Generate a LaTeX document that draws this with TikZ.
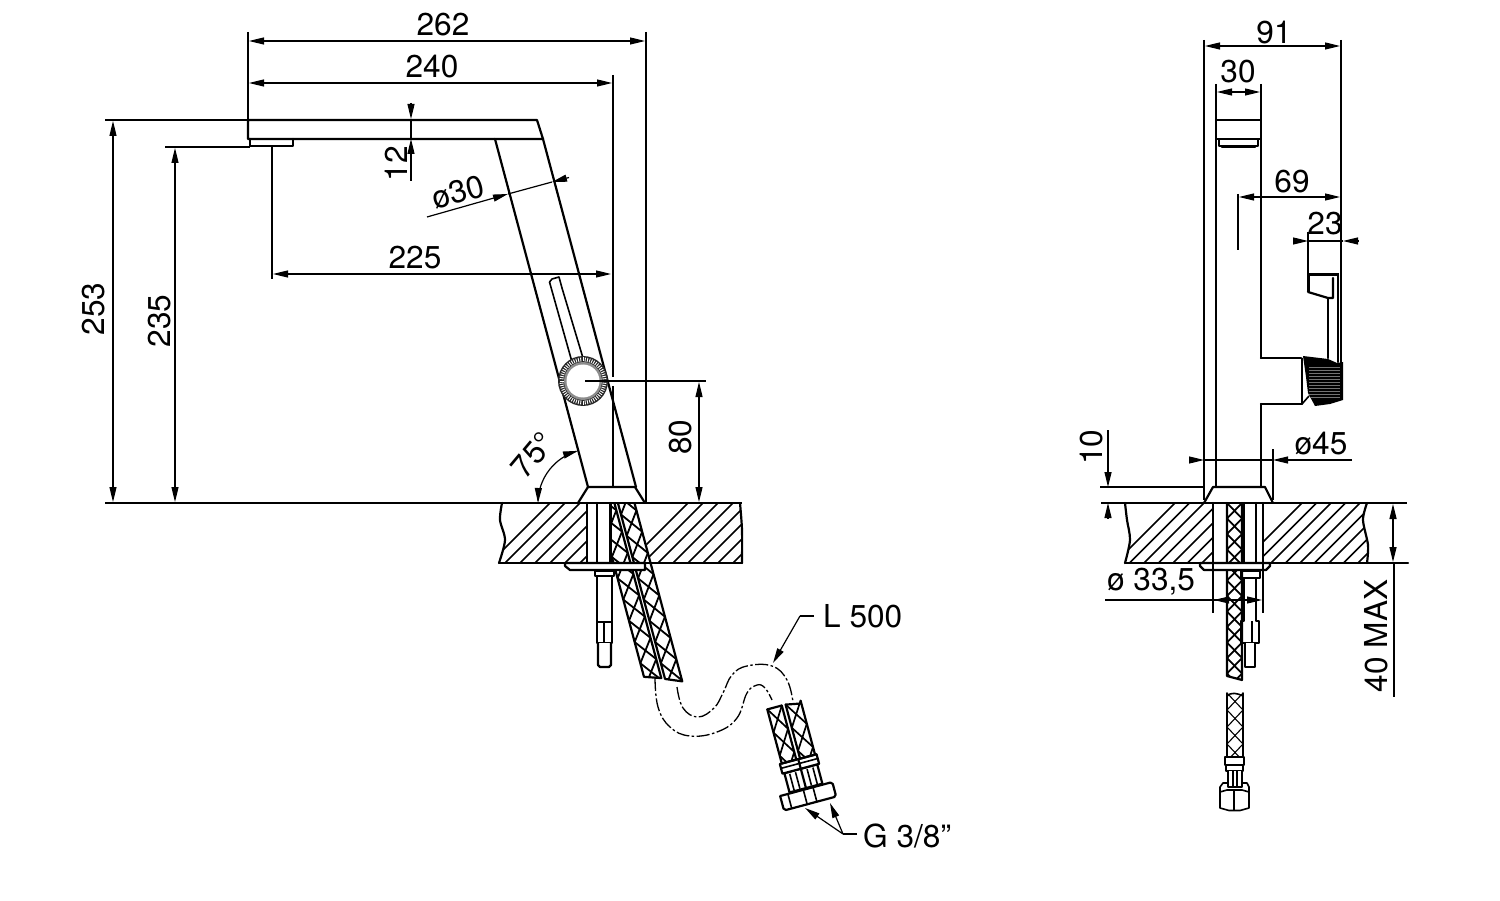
\documentclass[tikz,border=0pt]{standalone}
\usepackage{fontspec}
\setmainfont{TeX Gyre Heros}
\usetikzlibrary{arrows.meta}
\tikzset{
  main/.style={line width=2.2pt,line join=round,line cap=round},
  mid/.style={line width=1.6pt,line join=round},
  extl/.style={line width=1.2pt},
  hatchl/.style={line width=1.5pt},
  dimboth/.style={line width=1.2pt,{Triangle[length=15pt,width=7pt]}-{Triangle[length=15pt,width=7pt]}},
  dimend/.style={line width=1.2pt,-{Triangle[length=15pt,width=7pt]}},
  hosedash/.style={line width=1.3pt,dash pattern=on 13pt off 2.5pt on 2.5pt off 2.5pt},
  lab/.style={inner sep=0pt,font=\fontsize{31.6}{35}\selectfont},
}
\def\bw{1.8pt}
\def\be{2.2pt}
\newcommand\braid[7]{%
  \begin{scope}[shift={(#1,#2)},rotate=#3]
    \begin{scope}
      \clip (0,0)--(#4,0)--(#4,#6)--(0,#5)--cycle;
      \pgfmathtruncatemacro\bn{max(#5,#6)/#7+1}
      \foreach \k in {-1,...,\bn}{
        \pgfmathsetmacro\bta{\k*#7}
        \pgfmathsetmacro\btb{(\k+1)*#7}
        \draw[line width=\bw] (0,\bta)--(#4,\btb);
        \draw[line width=\bw] (#4,\bta)--(0,\btb);
      }
    \end{scope}
    \draw[main,line width=\be] (0,0)--(0,#5)--(#4,#6)--(#4,0);
  \end{scope}}
\begin{document}
\begin{tikzpicture}[x=1pt,y=-1pt]
\useasboundingbox[fill=white] (0,0) rectangle (1500,901);

% ---------- LEFT VIEW: counter ----------
\begin{scope}
  \clip plot[smooth] coordinates {(502,503)(500,520)(505,540)(499,563)} -- (587,563) -- (587,503) -- cycle;
  \foreach \s in {-10,5,...,150} \draw[hatchl] (500+\s,563)--(570+\s,493);
\end{scope}
\begin{scope}
  \clip plot[smooth] coordinates {(740,503)(742,530)(742,563)} -- (651,563) -- (636,503) -- cycle;
  \foreach \s in {-15,0,...,105} \draw[hatchl] (643+\s,563)--(713+\s,493);
\end{scope}
\draw[main] plot[smooth] coordinates {(502,503)(500,520)(505,540)(499,563)};
\draw[main] plot[smooth] coordinates {(740,503)(742,530)(742,563)};
\draw[mid] (105,503)--(742,503);
\draw[main] (499,563)--(742,563);
\draw[main] (587,503)--(587,563);
\draw[main] (597,503)--(597,563);
\draw[main] (610,503)--(610,563);

% hoses, left view
\begin{scope}
  \clip (611,503)--(800,503)--(800,720)--(580,720)--(580,564)--(611,564)--cycle;
  \braid{594.8}{493.3}{15}{16.4}{190}{195.7}{22}
  \braid{615.3}{493.3}{15}{16}{192.2}{199}{22}
\end{scope}
\draw[main] (611,503)--(611,563);

% rod
\draw[main,fill=white] (597,576)--(597,643)--(612,643)--(612,576);
\draw[mid] (597,622)--(612,622);
\draw[mid] (604,622)--(604,643);
\draw[main,fill=white] (598,643)--(598,665)--(600,667)--(609,667)--(611,665)--(611,643);
\draw[mid,fill=white] (595,571)--(614,571)--(614,576)--(595,576)--cycle;
% plate
\draw[main,fill=white] (565,563)--(565,566)--(570,570)--(645,570)--(645,563)--cycle;

% ---------- LEFT VIEW: spout and body ----------
\draw[main] (248,120)--(537,120)--(543,139)--(248,139)--cycle;
\draw[main] (250,139)--(250,146)--(293,146)--(293,139);
\draw[main] (495,139)--(588,487);
\draw[main] (543,139)--(636,487);
\draw[main] (578,503)--(588,487)--(635,487)--(645,503);
% slot
\draw[mid] (549.5,282)--(552,279)--(559,277)--(562,288);
\draw[mid] (549.5,282)--(572,362);
\draw[mid] (562,288)--(583,358);
% ring
\fill[black!85] (583,381) circle[radius=25];
\foreach \a in {0,6,...,354}
  \draw[white,line width=.9pt] ({583+19.5*cos(\a)},{381+19.5*sin(\a)})--({583+23.5*cos(\a)},{381+23.5*sin(\a)});
\fill[black!45] (583,381) circle[radius=19];
\fill[white] (583,381) circle[radius=16.5];

% ---------- LEFT VIEW: dimensions ----------
\draw[extl] (248,32)--(248,120);
\draw[extl] (646,32)--(646,503);
\draw[extl] (613,75)--(613,377);
\draw[extl] (613,386)--(613,487);
\draw[extl] (272,147)--(272,279);
\draw[extl] (105,120)--(248,120);
\draw[extl] (165,147)--(250,147);
\draw[extl] (585,381)--(706,381);
\draw[dimboth] (249,41)--(645,41);
\draw[dimboth] (249,83)--(612,83);
\draw[dimboth] (273,274)--(611,274);
\draw[dimboth] (113,121)--(113,502);
\draw[dimboth] (175,148)--(175,502);
\draw[dimboth] (699,382)--(699,502);
\draw[dimend] (411,103)--(411,119);
\draw[dimend] (411,181)--(411,139);
\draw[extl] (411,119)--(411,139);
\draw[dimend] (427,217)--(508,194);
\draw[extl] (508,194)--(552,182);
\draw[dimend] (569,177.5)--(552,182);
\draw[dimboth] plot[domain=180:105,samples=30] ({592+54*cos(\x)},{503-54*sin(\x)});
\node[lab] (t262) at (443,25) {262};
\node[lab] (t240) at (432,67) {240};
\node[lab] (t225) at (415,258) {225};
\node[lab,rotate=90] (t253) at (94,309) {253};
\node[lab,rotate=90] (t235) at (160,321) {235};
\node[lab,rotate=90] (t80) at (681,437) {80};
\node[lab,rotate=90] (t12) at (396,164) {12};
\node[lab,rotate=15] (td30) at (458,192) {ø30};
\node[lab,rotate=50] (t75) at (533,455) {75°};

% ---------- flexible hose ----------
\draw[hosedash] plot[smooth,tension=.7] coordinates {(677,687)(683,708)(698,717)(714,708)(723,693)(732,675)(747,666)(772,666)(787,680)(793,702)};
\draw[hosedash] plot[smooth,tension=.7] coordinates {(655,678)(658,707)(670,727)(690,736)(717,732)(737,718)(747,693)(757,685)(765,688)(772,700)};
\coordinate (l1) at (800,616);
\coordinate (l2) at (814,616);
\coordinate (lt) at (773,663);
\draw[extl] (l2)--(l1);
\draw[dimend] (l1)--(lt);
\node[lab,anchor=west] (tL) at (823,616) {L 500};

% fitting (local frame along the hose)
\begin{scope}[shift={(783.7,705)},rotate=15]
  \draw[main,fill=white] (-17,66)--(17,66)--(17,86)--(-17,86)--cycle;
  \foreach \u in {-12,-6,6,12} \draw[mid] (\u,68)--(\u,85);
  \draw[main,fill=white] (-19,56)--(19,56)--(19,66)--(-19,66)--cycle;
  \draw[mid] (-19,60.5)--(19,60.5);
  \draw[main] (0,56)--(0,86);
  \draw[main,fill=white] (-27,87)--(25,87)--(27,89)--(27,100)--(25,102)--(-25,102)--(-27,100)--(-27,89)--cycle;
  \draw[mid] (-19,87)--(-19,102);
  \draw[mid] (-3,87)--(-3,102);
  \draw[mid] (7,87)--(7,102);
\end{scope}
\def\bw{1.7pt}
\braid{767.3}{709.4}{15}{15}{56}{56}{24}
\braid{785.6}{704.6}{15}{15.5}{56}{56}{24}
\draw[main] (767.3,709.4)--(781.8,705.5);
\draw[main] (785.6,704.6)--(801,703.5);
\coordinate (g1) at (857,834);
\coordinate (g2) at (843,834);
\coordinate (g3) at (805,808);
\coordinate (g4) at (830,803);
\draw[extl] (g1)--(g2);
\draw[dimend] (g2)--(g3);
\draw[dimend] (g2)--(g4);
\node[lab,anchor=west] (tG) at (863,836) {G 3/8”};

% ---------- RIGHT VIEW: counter ----------
\begin{scope}
  \clip plot[smooth] coordinates {(1125,503)(1127,520)(1130,540)(1125,563)} -- (1213,563) -- (1213,503) -- cycle;
  \foreach \s in {-15,-0.5,14,...,120} \draw[hatchl] (1130+\s,563)--(1200+\s,493);
\end{scope}
\begin{scope}
  \clip plot[smooth] coordinates {(1367,503)(1363,520)(1368,545)(1367,563)} -- (1264,563) -- (1264,503) -- cycle;
  \foreach \s in {-15,-0.5,14,...,130} \draw[hatchl] (1257+\s,563)--(1327+\s,493);
\end{scope}
\draw[main] plot[smooth] coordinates {(1125,503)(1127,520)(1130,540)(1125,563)};
\draw[main] plot[smooth] coordinates {(1367,503)(1363,520)(1368,545)(1367,563)};
\draw[mid] (1101,503)--(1407,503);
\draw[main] (1125,563)--(1408,563);
\draw[main] (1213,503)--(1213,563);
\draw[main] (1263,503)--(1263,563);
\draw[main] (1256,503)--(1256,563);
% rod
\draw[main,fill=white] (1244,576)--(1244,621)--(1241,621)--(1241,643)--(1259,643)--(1259,621)--(1256,621)--(1256,576);
\draw[mid] (1252,621)--(1252,643);
\draw[main,fill=white] (1245,643)--(1245,667)--(1255,667)--(1255,643);
\draw[mid,fill=white] (1241,571)--(1260,571)--(1260,578)--(1241,578)--cycle;
% hose through
\def\bw{1.8pt}
\braid{1227}{503}{0}{15}{173}{177}{15.5}
\draw[main] (1244,503)--(1244,563);
% plate
\draw[main,fill=white] (1200,563)--(1200,566)--(1204,570)--(1266,570)--(1270,566)--(1270,563)--cycle;

% ---------- RIGHT VIEW: body ----------
\draw[main] (1216,120)--(1216,487);
\draw[main] (1216,120)--(1261,120)--(1261,358);
\draw[main] (1261,404)--(1261,487);
\draw[main] (1261,358)--(1301,358);
\draw[main] (1261,404)--(1302,404);
\draw[line width=2.6pt] (1216,139)--(1261,139);
\draw[mid] (1219,139)--(1219,146)--(1258,146)--(1258,139);
\draw[main] (1222,147)--(1255,147);
\draw[main] (1204,503)--(1213,487)--(1265,487)--(1273,503);
% handle
\draw[line width=3pt,line join=round] (1308,292)--(1308,275)--(1339,275);
\draw[main] (1308,292)--(1328,298)--(1333,298)--(1333,278);
\draw[main] (1328,298)--(1328,358);
\draw[main] (1338,275)--(1338,362);
\draw[mid] (1302,358)--(1302,404)--(1309,396);
% knob
\begin{scope}
  \path[clip] (1303,356)--(1328,359)--(1337,363)--(1343,362)--(1343,400)--(1330,404)--(1315,406)--(1308,393)--(1306,377)--cycle;
  \fill[black] (1300,350) rectangle (1350,410);
  \foreach \y in {367,370,...,398} \draw[black!55,line width=.8pt] (1309,\y)--(1340,\y);
\end{scope}
% lower end
\def\bw{1.1pt}
\def\be{1.6pt}
\braid{1227}{693}{0}{16}{64}{64}{17}
\draw[line width=1.6pt] (1227,696) .. controls (1231,692) and (1237,693) .. (1243,696);
\draw[mid,fill=white] (1225,765)--(1225,757)--(1244,757)--(1244,765)--cycle;
\draw[mid,fill=white] (1226,765)--(1243,765)--(1243,771)--(1226,771)--cycle;
\draw[mid,fill=white] (1228,771)--(1228,787)--(1242,787)--(1242,771);
\draw[mid] (1233,771)--(1233,786);
\draw[mid] (1237,771)--(1237,786);
\draw[mid,fill=white] (1220,787)--(1223,783)--(1228,783)--(1228,787)--(1242,787)--(1242,783)--(1247,783)--(1249,787)--(1249,808)--(1240,810.5)--(1229,810.5)--(1220,808)--cycle;
\draw[mid] (1220,792)--(1227,790)--(1242,790)--(1249,792);
\draw[mid] (1234,791)--(1234,810);

% ---------- RIGHT VIEW: dimensions ----------
\draw[extl] (1204,40)--(1204,500);
\draw[extl] (1341,40)--(1341,397);
\draw[extl] (1216,84)--(1216,120);
\draw[extl] (1261,84)--(1261,120);
\draw[extl] (1238,194)--(1238,250);
\draw[extl] (1308,232)--(1308,275);
\draw[extl] (1273,449)--(1273,500);
\draw[extl] (1100,487)--(1205,487);
\draw[extl] (1213,563)--(1213,613);
\draw[extl] (1263,563)--(1263,613);
\draw[extl] (1394,563)--(1394,697);
\draw[dimboth] (1205,46)--(1340,46);
\draw[dimboth] (1217,92)--(1260,92);
\draw[dimboth] (1239,197)--(1340,197);
\draw[dimend] (1293,241)--(1308,241);
\draw[dimend] (1358,241)--(1343,241);
\draw[extl] (1308,241)--(1343,241);
\draw[dimend] (1189,460)--(1204,460);
\draw[dimend] (1352,460)--(1273,460);
\draw[extl] (1204,460)--(1273,460);
\draw[dimend] (1108,430)--(1108,487);
\draw[dimend] (1108,518)--(1108,503);
\draw[dimend] (1105,600)--(1262,600);
\draw[{Triangle[length=15pt,width=7pt]}-,line width=1.2pt] (1214,600)--(1229,600);
\draw[dimboth] (1393,504)--(1393,562);
\node[lab] (t91) at (1274,33) {91};
\node[lab] (t30) at (1238,72) {30};
\node[lab] (t69) at (1292,182) {69};
\node[lab] (t23) at (1325,224) {23};
\node[lab] (td45) at (1321,444) {ø45};
\node[lab] (td33) at (1151,582) {ø 33,5};
\node[lab,rotate=90] (t10) at (1092,447) {10};
\node[lab,rotate=90] (t40) at (1376,636) {40 MAX};
\end{tikzpicture}
\end{document}
